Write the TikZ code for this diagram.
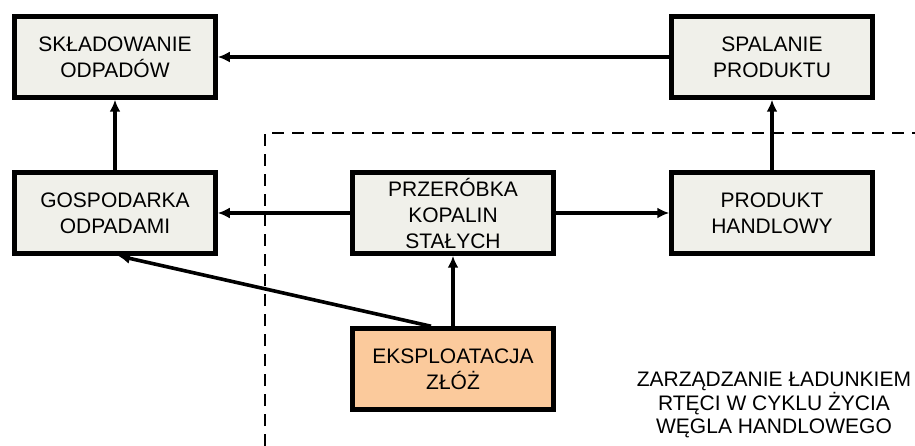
\documentclass[tikz,border=0pt]{standalone}
\usepackage{fontspec}
\setmainfont{Liberation Sans}
\usepackage{tikz}
\usetikzlibrary{arrows.meta,positioning,calc}
\definecolor{boxgray}{RGB}{240,240,234}
\definecolor{boxorange}{RGB}{251,202,156}

\begin{document}
\begin{tikzpicture}[
  x=1pt, y=-1pt,
  box/.style={draw, line width=4.5pt, fill=boxgray, minimum width=201pt,
              minimum height=81pt, align=center,
              font=\fontsize{21}{26}\selectfont},
  source/.style={box, fill=boxorange},
  arrow/.style={-{Latex[length=12pt, width=11pt]}, line width=3.6pt},
  frame/.style={line width=2.6pt, dash pattern=on 12pt off 8pt},
  note/.style={align=center, font=\fontsize{21}{23.5}\selectfont},
]
  \useasboundingbox (0,0) rectangle (915,446);

  % Top row
  \node[box] (skladowanie) at (115, 57) {SKŁADOWANIE\\ODPADÓW};
  \node[box] (spalanie) at (772, 57) {SPALANIE\\PRODUKTU};

  % Middle row
  \node[box] (gospodarka) at (115, 213) {GOSPODARKA\\ODPADAMI};
  \node[box] (przerobka) at (453, 213) {PRZERÓBKA\\KOPALIN\\STAŁYCH};
  \node[box] (produkt) at (772, 213) {PRODUKT\\HANDLOWY};

  % Bottom node
  \node[source] (eksploatacja) at (453, 369) {EKSPLOATACJA\\ZŁÓŻ};

  % Scope frame
  \coordinate (frameBL) at (265, 446);
  \coordinate (frameTL) at (265, 133);
  \coordinate (frameTR) at (915, 133);
  \draw[frame] (frameBL) -- (frameTL) -- (frameTR);

  % Arrows
  \draw[arrow] (spalanie) -- (skladowanie);
  \draw[arrow] (gospodarka) -- (skladowanie);
  \draw[arrow] (przerobka) -- (gospodarka);
  \draw[arrow] (przerobka) -- (produkt);
  \draw[arrow] (produkt) -- (spalanie);
  \draw[arrow] (eksploatacja) -- (przerobka);
  \draw[arrow] ([xshift=-22pt]eksploatacja.north) -- ([xshift=3pt]gospodarka.south);

  % Scope label
  \node[note] (zakres) at (774, 405)
    {ZARZĄDZANIE ŁADUNKIEM\\RTĘCI W CYKLU ŻYCIA\\WĘGLA HANDLOWEGO};
\end{tikzpicture}
\end{document}
